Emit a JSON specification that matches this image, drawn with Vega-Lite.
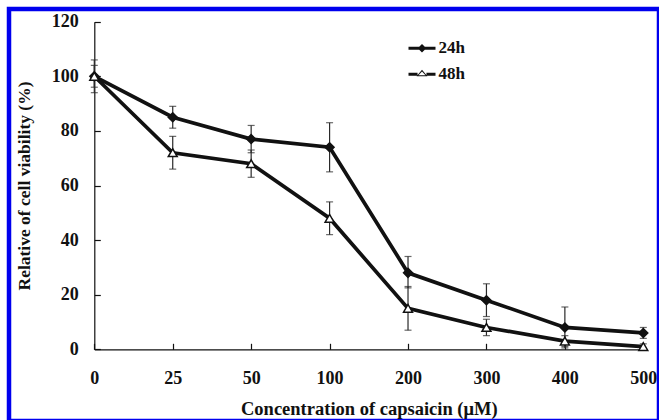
{
  "$schema": "https://vega.github.io/schema/vega-lite/v6.json",
  "width": 650,
  "height": 412,
  "autosize": {"type": "none"},
  "padding": {"left": 9, "top": 9, "right": 0, "bottom": 0},
  "background": "white",
  "config": {
    "view": {"stroke": "#0000ee", "strokeWidth": 4.5},
    "font": "Liberation Serif",
    "axis": {
      "labelFont": "Liberation Serif",
      "labelFontSize": 18,
      "labelFontWeight": "bold",
      "labelColor": "#111",
      "titleFont": "Liberation Serif",
      "titleFontWeight": "bold",
      "titleColor": "#111",
      "domainColor": "#111",
      "tickColor": "#111",
      "domainWidth": 1.2,
      "tickWidth": 1.2,
      "grid": false
    }
  },
  "data": {
    "values": [
      {"conc": "0", "series": "24h", "v": 100, "lo": 96, "hi": 104},
      {"conc": "25", "series": "24h", "v": 85, "lo": 81, "hi": 89},
      {"conc": "50", "series": "24h", "v": 77, "lo": 72, "hi": 82},
      {"conc": "100", "series": "24h", "v": 74, "lo": 65, "hi": 83},
      {"conc": "200", "series": "24h", "v": 28, "lo": 22.5, "hi": 34},
      {"conc": "300", "series": "24h", "v": 18, "lo": 12, "hi": 24},
      {"conc": "400", "series": "24h", "v": 8, "lo": 0.5, "hi": 15.5},
      {"conc": "500", "series": "24h", "v": 6, "lo": 4, "hi": 8},
      {"conc": "0", "series": "48h", "v": 100, "lo": 94, "hi": 106},
      {"conc": "25", "series": "48h", "v": 72, "lo": 66, "hi": 78},
      {"conc": "50", "series": "48h", "v": 68, "lo": 63, "hi": 73},
      {"conc": "100", "series": "48h", "v": 48, "lo": 42, "hi": 54},
      {"conc": "200", "series": "48h", "v": 15, "lo": 7, "hi": 23},
      {"conc": "300", "series": "48h", "v": 8, "lo": 5, "hi": 11},
      {"conc": "400", "series": "48h", "v": 3, "lo": 1, "hi": 5},
      {"conc": "500", "series": "48h", "v": 1, "lo": 0, "hi": 2}
    ]
  },
  "encoding": {
    "x": {
      "field": "conc",
      "type": "ordinal",
      "sort": ["0", "25", "50", "100", "200", "300", "400", "500"],
      "scale": {"type": "point", "range": [85.3, 634.3], "padding": 0},
      "axis": {
        "title": "Concentration of capsaicin (μM)",
        "titleFontSize": 18.5,
        "labelAngle": 0,
        "offset": -71.7,
        "tickSize": -6,
        "labelBaseline": "alphabetic",
        "labelPadding": 40,
        "titleY": 65.5,
        "titleBaseline": "alphabetic"
      }
    }
  },
  "layer": [
    {
      "mark": {"type": "line", "color": "#111", "strokeWidth": 3.7},
      "encoding": {
        "y": {
          "field": "v",
          "type": "quantitative",
          "scale": {"domain": [0, 120], "range": [340.3, 12.7]},
          "axis": {
            "title": "Relative of cell viability (%)",
            "titleFontSize": 17.5,
            "values": [0, 20, 40, 60, 80, 100, 120],
            "offset": -85.3,
            "tickSize": -6,
            "labelPadding": 22,
            "titleX": -65,
            "titleBaseline": "alphabetic"
          }
        },
        "detail": {"field": "series"}
      }
    },
    {
      "mark": {
        "type": "errorbar",
        "color": "#2a2a2a",
        "ticks": {"size": 7, "thickness": 1.2},
        "rule": {"strokeWidth": 1.2}
      },
      "encoding": {
        "y": {"field": "lo", "type": "quantitative", "title": "Relative of cell viability (%)"},
        "y2": {"field": "hi"}
      }
    },
    {
      "mark": {"type": "point", "opacity": 1, "stroke": "#111", "strokeWidth": 1.5, "size": 80},
      "encoding": {
        "y": {"field": "v", "type": "quantitative", "title": "Relative of cell viability (%)"},
        "shape": {
          "field": "series",
          "type": "nominal",
          "scale": {"domain": ["24h", "48h"], "range": ["diamond", "triangle-up"]},
          "legend": null
        },
        "fill": {
          "field": "series",
          "type": "nominal",
          "scale": {"domain": ["24h", "48h"], "range": ["#111", "white"]},
          "legend": null
        }
      }
    },
    {
      "mark": {"type": "point", "filled": true, "color": "#111", "opacity": 0},
      "encoding": {
        "y": {"field": "v", "type": "quantitative", "title": "Relative of cell viability (%)"},
        "shape": {
          "field": "series",
          "type": "nominal",
          "scale": {
            "domain": ["24h", "48h"],
            "range": [
              "M-1,-0.11L1,-0.11L1,0.11L-1,0.11Z M0,-0.32L0.32,0L0,0.32L-0.32,0Z",
              "M-1,-0.11L-0.33,-0.11L-0.33,0.11L-1,0.11Z M0.33,-0.11L1,-0.11L1,0.11L0.33,0.11Z M0,-0.34L0.4,0.14L-0.4,0.14Z M0,-0.21L-0.26,0.07L0.26,0.07Z"
            ]
          },
          "legend": {
            "orient": "none",
            "legendX": 399.5,
            "legendY": 25.8,
            "title": null,
            "padding": 0,
            "symbolSize": 729,
            "symbolOpacity": 1,
            "symbolFillColor": "#111",
            "symbolStrokeWidth": 0,
            "labelFont": "Liberation Serif",
            "labelFontSize": 17,
            "labelFontWeight": "bold",
            "labelColor": "#111",
            "labelOffset": 3,
            "rowPadding": 4
          }
        }
      }
    }
  ],
  "resolve": {"scale": {"shape": "independent", "fill": "independent"}, "legend": {"shape": "independent"}}
}
